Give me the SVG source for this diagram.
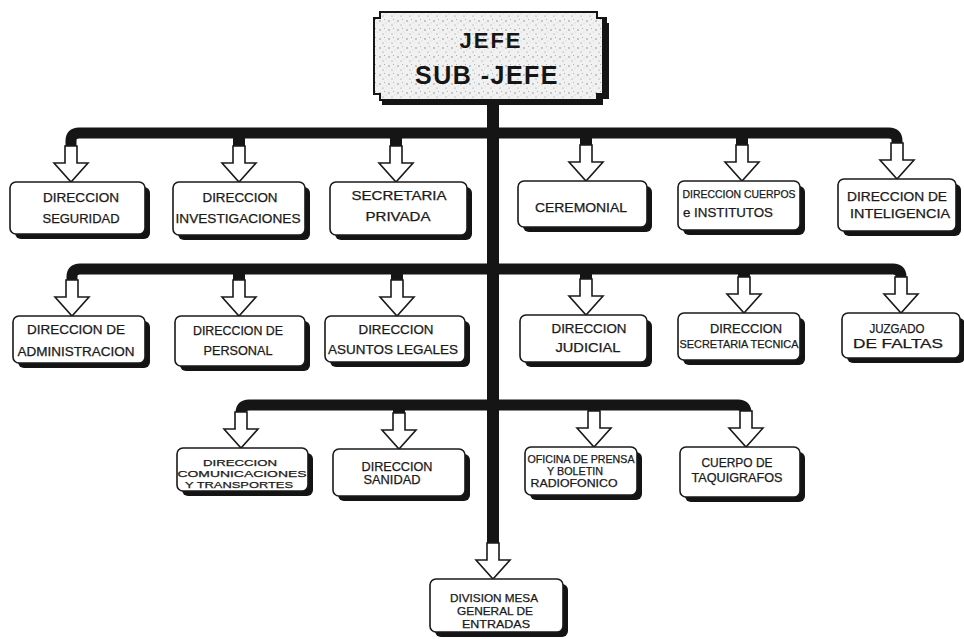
<svg xmlns="http://www.w3.org/2000/svg" width="964" height="639" viewBox="0 0 964 639">
  <defs>
    <pattern id="stipple" width="9" height="9" patternUnits="userSpaceOnUse">
      <rect width="9" height="9" fill="#f1f1f1"/>
      <circle cx="2" cy="3" r="0.7" fill="#777"/>
      <circle cx="6.5" cy="1.5" r="0.5" fill="#999"/>
      <circle cx="5" cy="7" r="0.6" fill="#888"/>
      <circle cx="8" cy="5" r="0.4" fill="#aaa"/>
    </pattern>
    <path id="arrow" d="M-6,0 H6 V17 H17 L0,36 L-17,17 H-6 Z"/>
  </defs>
  <style>
    .shadow { fill: #141414; }
    .box { fill: #ffffff; stroke: #1a1a1a; stroke-width: 1.6; }
    .bus { fill: none; stroke: #151515; stroke-width: 11; stroke-linejoin: round; }
    .stub { fill: none; stroke: #151515; stroke-width: 12; }
    .arr { fill: #ffffff; stroke: #1a1a1a; stroke-width: 1.6; stroke-linejoin: miter; }
    .lbl { font-family: "Liberation Sans", "DejaVu Sans", sans-serif; font-size: 12px; fill: #1a1a1a; stroke: #1a1a1a; stroke-width: 0.25; text-anchor: middle; }
    .sm { font-size: 10.5px; }
    .xs { font-size: 9.5px; }
    .head { font-family: "Liberation Sans", "DejaVu Sans", sans-serif; font-weight: bold; fill: #151515; text-anchor: middle; }
  </style>

  <rect width="964" height="639" fill="#ffffff"/>

  <!-- connectors: trunk, three buses, stubs and hollow arrows -->
  <g id="connectors">
    <path class="stub" d="M493,100 V545"/>
    <path class="bus" d="M71,147 V141 Q71,133 79,133 H889 Q897,133 897,141 V147"/>
    <path class="stub" d="M239,133 V147 M396,133 V147 M586,133 V147 M742,133 V147"/>
    <path class="bus" d="M72,281 V277 Q72,269 80,269 H893 Q901,269 901,277 V281"/>
    <path class="stub" d="M239,269 V281 M397,269 V281 M586,269 V281 M744,269 V281"/>
    <path class="bus" d="M241,413 V413 Q241,405 249,405 H738 Q746,405 746,413 V413"/>
    <path class="stub" d="M399,405 V413 M594,405 V413"/>

    <use href="#arrow" class="arr" x="71" y="146"/>
    <use href="#arrow" class="arr" x="239" y="146"/>
    <use href="#arrow" class="arr" x="396" y="146"/>
    <use href="#arrow" class="arr" x="586" y="145"/>
    <use href="#arrow" class="arr" x="742" y="145"/>
    <use href="#arrow" class="arr" x="897" y="143"/>

    <use href="#arrow" class="arr" x="72" y="280"/>
    <use href="#arrow" class="arr" x="239" y="280"/>
    <use href="#arrow" class="arr" x="397" y="280"/>
    <use href="#arrow" class="arr" x="586" y="279"/>
    <use href="#arrow" class="arr" x="744" y="277"/>
    <use href="#arrow" class="arr" x="901" y="277"/>

    <use href="#arrow" class="arr" x="241" y="412"/>
    <use href="#arrow" class="arr" x="399" y="413"/>
    <use href="#arrow" class="arr" x="594" y="411"/>
    <use href="#arrow" class="arr" x="746" y="411"/>

    <use href="#arrow" class="arr" x="493" y="543"/>
  </g>

  <!-- head office -->
  <g id="jefe">
    <path d="M382,17 H607 V23 H609 V99 H603 V105 H382 Z" fill="#151515"/>
    <path d="M380,12 H597 V18 H603 V94 H597 V100 H380 V94 H374 V18 H380 Z" fill="url(#stipple)" stroke="#151515" stroke-width="2"/>
    <text class="head" x="491" y="48" font-size="22" letter-spacing="2">JEFE</text>
    <text class="head" x="487" y="84" font-size="25" letter-spacing="1.5">SUB -JEFE</text>
  </g>

  <!-- first tier -->
  <g id="seguridad">
    <rect class="shadow" x="15" y="187" width="135" height="52" rx="6"/>
    <rect class="box" x="10" y="182" width="135" height="52" rx="6"/>
    <text class="lbl" x="81" y="202" textLength="76" lengthAdjust="spacingAndGlyphs">DIRECCION</text>
    <text class="lbl" x="81" y="223" textLength="77" lengthAdjust="spacingAndGlyphs">SEGURIDAD</text>
  </g>
  <g id="investigaciones">
    <rect class="shadow" x="178" y="187" width="132" height="53" rx="6"/>
    <rect class="box" x="173" y="182" width="132" height="53" rx="6"/>
    <text class="lbl" x="240" y="202" textLength="75" lengthAdjust="spacingAndGlyphs">DIRECCION</text>
    <text class="lbl" x="238" y="223" textLength="125" lengthAdjust="spacingAndGlyphs">INVESTIGACIONES</text>
  </g>
  <g id="secretaria-privada">
    <rect class="shadow" x="335" y="187" width="137" height="53" rx="6"/>
    <rect class="box" x="330" y="182" width="137" height="53" rx="6"/>
    <text class="lbl" x="399" y="200" textLength="95" lengthAdjust="spacingAndGlyphs">SECRETARIA</text>
    <text class="lbl" x="398" y="221" textLength="65" lengthAdjust="spacingAndGlyphs">PRIVADA</text>
  </g>
  <g id="ceremonial">
    <rect class="shadow" x="523" y="186" width="129" height="46" rx="6"/>
    <rect class="box" x="518" y="181" width="129" height="46" rx="6"/>
    <text class="lbl" x="581" y="212" textLength="92" lengthAdjust="spacingAndGlyphs">CEREMONIAL</text>
  </g>
  <g id="cuerpos-institutos">
    <rect class="shadow" x="683" y="186" width="122" height="49" rx="6"/>
    <rect class="box" x="678" y="181" width="122" height="49" rx="6"/>
    <text class="lbl sm" x="739" y="198" textLength="113" lengthAdjust="spacingAndGlyphs">DIRECCION CUERPOS</text>
    <text class="lbl" x="728" y="217" textLength="90" lengthAdjust="spacingAndGlyphs">e INSTITUTOS</text>
  </g>
  <g id="inteligencia">
    <rect class="shadow" x="843" y="184" width="118" height="52" rx="6"/>
    <rect class="box" x="838" y="179" width="118" height="52" rx="6"/>
    <text class="lbl" x="897" y="201" textLength="100" lengthAdjust="spacingAndGlyphs">DIRECCION DE</text>
    <text class="lbl" x="900" y="218" textLength="100" lengthAdjust="spacingAndGlyphs">INTELIGENCIA</text>
  </g>

  <!-- second tier -->
  <g id="administracion">
    <rect class="shadow" x="18" y="321" width="132" height="47" rx="6"/>
    <rect class="box" x="13" y="316" width="132" height="47" rx="6"/>
    <text class="lbl" x="76" y="334" textLength="98" lengthAdjust="spacingAndGlyphs">DIRECCION DE</text>
    <text class="lbl" x="76" y="356" textLength="117" lengthAdjust="spacingAndGlyphs">ADMINISTRACION</text>
  </g>
  <g id="personal">
    <rect class="shadow" x="180" y="321" width="130" height="50" rx="6"/>
    <rect class="box" x="175" y="316" width="130" height="50" rx="6"/>
    <text class="lbl" x="238" y="335" textLength="90" lengthAdjust="spacingAndGlyphs">DIRECCION DE</text>
    <text class="lbl" x="238" y="355" textLength="69" lengthAdjust="spacingAndGlyphs">PERSONAL</text>
  </g>
  <g id="asuntos-legales">
    <rect class="shadow" x="330" y="321" width="140" height="46" rx="6"/>
    <rect class="box" x="325" y="316" width="140" height="46" rx="6"/>
    <text class="lbl" x="396" y="334" textLength="75" lengthAdjust="spacingAndGlyphs">DIRECCION</text>
    <text class="lbl" x="393" y="354" textLength="130" lengthAdjust="spacingAndGlyphs">ASUNTOS LEGALES</text>
  </g>
  <g id="judicial">
    <rect class="shadow" x="525" y="320" width="127" height="47" rx="6"/>
    <rect class="box" x="520" y="315" width="127" height="47" rx="6"/>
    <text class="lbl" x="589" y="333" textLength="75" lengthAdjust="spacingAndGlyphs">DIRECCION</text>
    <text class="lbl" x="588" y="352" textLength="65" lengthAdjust="spacingAndGlyphs">JUDICIAL</text>
  </g>
  <g id="secretaria-tecnica">
    <rect class="shadow" x="683" y="318" width="122" height="47" rx="6"/>
    <rect class="box" x="678" y="313" width="122" height="47" rx="6"/>
    <text class="lbl" x="746" y="333" textLength="72" lengthAdjust="spacingAndGlyphs">DIRECCION</text>
    <text class="lbl sm" x="739" y="348" textLength="119" lengthAdjust="spacingAndGlyphs">SECRETARIA TECNICA</text>
  </g>
  <g id="juzgado">
    <rect class="shadow" x="847" y="318" width="118" height="45" rx="6"/>
    <rect class="box" x="842" y="313" width="118" height="45" rx="6"/>
    <text class="lbl" x="897" y="333" textLength="55" lengthAdjust="spacingAndGlyphs">JUZGADO</text>
    <text class="lbl" x="898" y="348" textLength="90" lengthAdjust="spacingAndGlyphs">DE FALTAS</text>
  </g>

  <!-- third tier -->
  <g id="comunicaciones">
    <rect class="shadow" x="182" y="453" width="131" height="43" rx="6"/>
    <rect class="box" x="177" y="448" width="131" height="43" rx="6"/>
    <text class="lbl xs" x="240" y="466" textLength="74" lengthAdjust="spacingAndGlyphs">DIRECCION</text>
    <text class="lbl xs" x="242" y="477" textLength="129" lengthAdjust="spacingAndGlyphs">COMUNICACIONES</text>
    <text class="lbl xs" x="239" y="488" textLength="108" lengthAdjust="spacingAndGlyphs">Y TRANSPORTES</text>
  </g>
  <g id="sanidad">
    <rect class="shadow" x="338" y="454" width="132" height="47" rx="6"/>
    <rect class="box" x="333" y="449" width="132" height="47" rx="6"/>
    <text class="lbl" x="397" y="471" textLength="71" lengthAdjust="spacingAndGlyphs">DIRECCION</text>
    <text class="lbl" x="392" y="484" textLength="57" lengthAdjust="spacingAndGlyphs">SANIDAD</text>
  </g>
  <g id="prensa">
    <rect class="shadow" x="530" y="452" width="112" height="48" rx="6"/>
    <rect class="box" x="525" y="447" width="112" height="48" rx="6"/>
    <text class="lbl sm" x="581" y="463" textLength="107" lengthAdjust="spacingAndGlyphs">OFICINA DE PRENSA</text>
    <text class="lbl sm" x="575" y="475" textLength="56" lengthAdjust="spacingAndGlyphs">Y BOLETIN</text>
    <text class="lbl sm" x="574" y="487" textLength="87" lengthAdjust="spacingAndGlyphs">RADIOFONICO</text>
  </g>
  <g id="taquigrafos">
    <rect class="shadow" x="685" y="452" width="120" height="50" rx="6"/>
    <rect class="box" x="680" y="447" width="120" height="50" rx="6"/>
    <text class="lbl" x="737" y="467" textLength="71" lengthAdjust="spacingAndGlyphs">CUERPO DE</text>
    <text class="lbl" x="737" y="482" textLength="91" lengthAdjust="spacingAndGlyphs">TAQUIGRAFOS</text>
  </g>

  <!-- final tier -->
  <g id="mesa-entradas">
    <rect class="shadow" x="435" y="584" width="133" height="53" rx="6"/>
    <rect class="box" x="430" y="579" width="133" height="53" rx="6"/>
    <text class="lbl sm" x="494" y="602" textLength="88" lengthAdjust="spacingAndGlyphs">DIVISION MESA</text>
    <text class="lbl sm" x="495" y="615" textLength="76" lengthAdjust="spacingAndGlyphs">GENERAL DE</text>
    <text class="lbl sm" x="496" y="628" textLength="68" lengthAdjust="spacingAndGlyphs">ENTRADAS</text>
  </g>
</svg>
